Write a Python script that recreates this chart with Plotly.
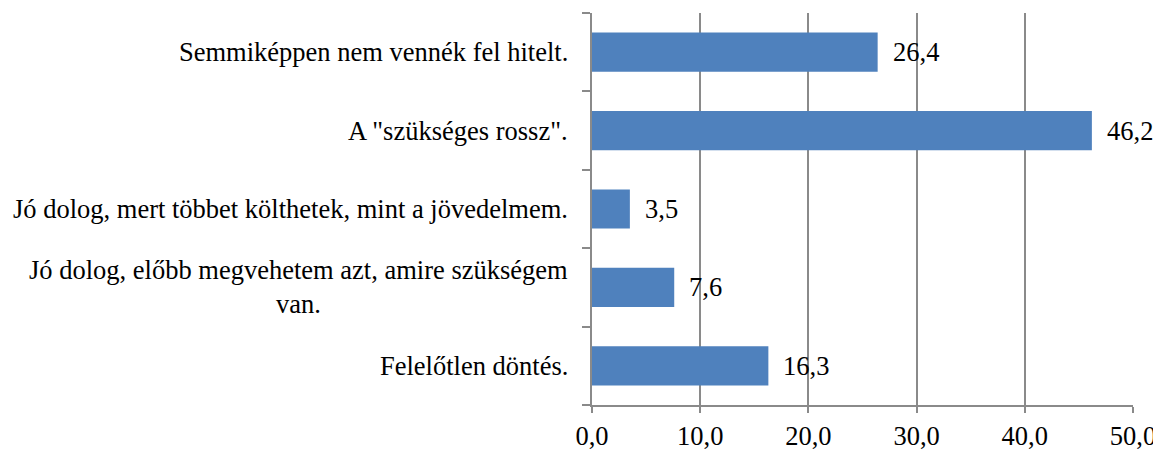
import plotly.graph_objects as go

categories = [
    "Felelőtlen döntés.",
    "Jó dolog, előbb megvehetem azt, amire szükségem<br>van.",
    "Jó dolog, mert többet költhetek, mint a jövedelmem.",
    "A \"szükséges rossz\".",
    "Semmiképpen nem vennék fel hitelt.",
]
values = [16.3, 7.6, 3.5, 46.2, 26.4]
x_ticks = [0, 10, 20, 30, 40, 50]

FONT = "Liberation Serif"
FS = 26.5
GRID = "#8a8a8a"
BAR = "#4F81BD"

fig = go.Figure()
fig.add_trace(go.Bar(
    x=values, y=categories, orientation="h",
    marker=dict(color=BAR, line=dict(width=0)),
    width=0.5, hoverinfo="skip",
))

annotations = []
for c, v in zip(categories, values):
    annotations.append(dict(
        x=v, y=c, xref="x", yref="y", xanchor="left", yanchor="middle",
        text=f"{v:.1f}".replace(".", ","), showarrow=False, xshift=13,
        font=dict(family=FONT, size=FS, color="#000"),
    ))
    annotations.append(dict(
        x=0, y=c, xref="paper", yref="y", xanchor="right", yanchor="middle",
        text=c, showarrow=False, xshift=-22, align="center",
        font=dict(family=FONT, size=FS, color="#000"),
    ))

# page body adds an 8px offset; margins compensate so the plot lands where the reference has it
fig.update_layout(
    template="none",
    width=1161, height=449,
    margin=dict(l=584, r=36, t=5, b=52, autoexpand=False),
    paper_bgcolor="white", plot_bgcolor="white",
    showlegend=False,
    separators=", ",
    font=dict(family=FONT, size=FS, color="#000"),
    annotations=annotations,
    xaxis=dict(
        range=[0, 50], tickvals=x_ticks, tickformat=".1f",
        showgrid=True, gridcolor=GRID, gridwidth=1.5,
        showline=True, linecolor=GRID, linewidth=1.5,
        ticks="outside", ticklen=6, tickcolor=GRID, tickwidth=1.5,
        zeroline=False, automargin=False,
        tickfont=dict(family=FONT, size=FS, color="#000"),
    ),
    yaxis=dict(
        type="category", categoryorder="array", categoryarray=categories,
        range=[-0.5, 4.5], automargin=False,
        showticklabels=False, showgrid=False, zeroline=False,
        showline=True, linecolor=GRID, linewidth=1.5,
        ticks="outside", tickson="boundaries", ticklen=8,
        tickcolor=GRID, tickwidth=1.5,
    ),
)

fig.write_html("out.html")
